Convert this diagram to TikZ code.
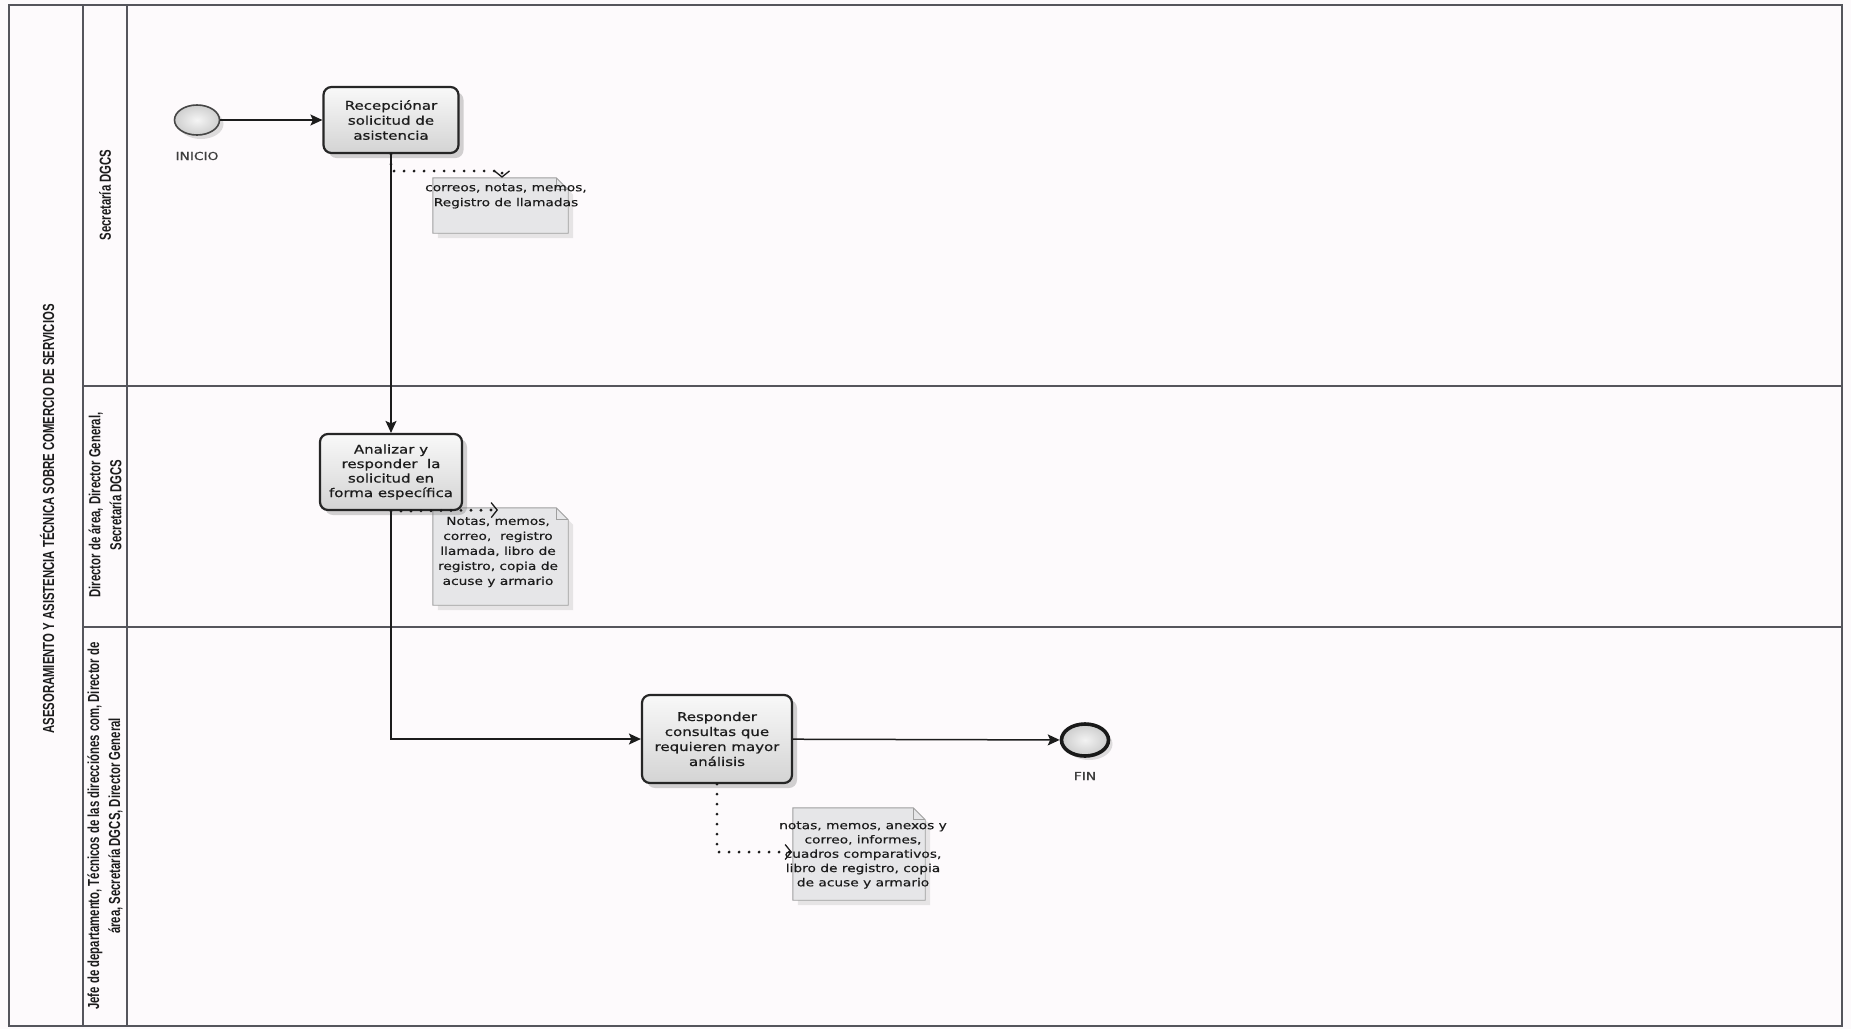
\documentclass[tikz,border=0pt]{standalone}
\usepackage{fontspec}
\setmainfont{DejaVu Sans}
\newfontfamily\bpmnfont[FakeStretch=1.25,FakeBold=0.7]{DejaVu Sans}
\newfontfamily\notefont[FakeStretch=1.25,FakeBold=0.45]{DejaVu Sans}
\newfontfamily\lanefont[FakeStretch=0.71]{Liberation Sans}
\usetikzlibrary{arrows.meta,shadows,calc,shapes.geometric}

\definecolor{pagebg}{RGB}{253,250,252}
\definecolor{rule}{RGB}{85,85,92}
\definecolor{ink}{RGB}{28,28,28}
\definecolor{notefill}{RGB}{230,230,232}

% folded-corner page drawn around an empty node
\newcommand\foldpage[1]{%
  \fill[gray!60,opacity=0.3] ($(#1.north west)+(5,5)$) -- ($(#1.north east)+(-7,5)$)
     -- ($(#1.north east)+(5,17)$) -- ($(#1.south east)+(5,5)$) -- ($(#1.south west)+(5,5)$) -- cycle;
  \filldraw[fill=notefill,draw=gray!75,line width=0.9pt] (#1.north west) -- ($(#1.north east)+(-12,0)$)
     -- ($(#1.north east)+(0,12)$) -- (#1.south east) -- (#1.south west) -- cycle;
  \draw[gray!75,line width=0.9pt] ($(#1.north east)+(-12,0)$) -- ($(#1.north east)+(-12,12)$) -- ($(#1.north east)+(0,12)$);
}

\tikzset{
  lane/.style={draw=rule,line width=1.3pt},
  lanelabel/.style={rotate=90,font=\lanefont\bfseries\fontsize{16}{21}\selectfont,text=ink,align=center,inner sep=0pt},
  task/.style={rectangle,rounded corners=8pt,draw=black!85,line width=2.2pt,
    top color=gray!5,bottom color=gray!34,align=center,inner sep=2pt,
    font=\bpmnfont\fontsize{12}{15}\selectfont,text=ink,
    drop shadow={shadow xshift=5pt,shadow yshift=-5pt,opacity=0.35,fill=gray}},
  startev/.style={ellipse,minimum width=45pt,minimum height=30pt,inner sep=0pt,
    draw=gray!55!black,line width=1.6pt,inner color=gray!8,outer color=gray!38,
    drop shadow={shadow xshift=4pt,shadow yshift=-4pt,opacity=0.25,fill=gray}},
  endev/.style={ellipse,minimum width=47pt,minimum height=32pt,inner sep=0pt,
    draw=black!90,line width=3.6pt,inner color=gray!10,outer color=gray!40,
    drop shadow={shadow xshift=4pt,shadow yshift=-4pt,opacity=0.25,fill=gray}},
  evlabel/.style={font=\notefont\fontsize{11}{13}\selectfont,text=ink!85,inner sep=0pt},
  notebox/.style={rectangle,draw=none,inner sep=0pt},
  notetext/.style={font=\notefont\fontsize{11}{15}\selectfont,text=ink,align=center,inner sep=0pt},
  flow/.style={draw=ink,line width=1.5pt,-{Stealth[length=12pt,width=11pt,inset=2.5pt]}},
  assoc/.style={draw=ink,line width=3.2pt,line cap=round,dash pattern=on 0pt off 10pt,
    -{Straight Barb[length=6pt,width=15pt,line width=1.3pt]}}
}

\begin{document}
\begin{tikzpicture}[x=1pt,y=-1pt]
\useasboundingbox (0,0) rectangle (1851,1029);
\fill[pagebg] (0,0) rectangle (1851,1029);

% pool and lanes
\draw[lane,line width=1.6pt] (9,5) rectangle (1842,1026);
\draw[rule,line width=2.6pt] (9,5) -- (1842,5);
\draw[lane] (83,5) -- (83,1026);
\draw[lane] (127,5) -- (127,1026);
\draw[lane] (83,386) -- (1842,386);
\draw[lane] (83,627) -- (1842,627);

\node[lanelabel] (pooltitle) at (47,519) {ASESORAMIENTO Y ASISTENCIA TÉCNICA SOBRE COMERCIO DE SERVICIOS};
\node[lanelabel] (lane1) at (105,195) {Secretaría DGCS};
\node[lanelabel] (lane2) at (105,505) {Director de área, Director General,\\Secretaría DGCS};
\node[lanelabel] (lane3) at (105,826) {Jefe de departamento, Técnicos de las direcciónes com, Director de\\área, Secretaría DGCS, Director General};

% data objects
\node[notebox,minimum width=135pt,minimum height=55pt] (n1) at (500.5,205.5) {};
\foldpage{n1}
\node[notetext] (n1t) at (506,196) {correos, notas, memos,\\Registro de llamadas};

\node[notebox,minimum width=135pt,minimum height=97pt] (n2) at (500.5,556.5) {};
\foldpage{n2}
\node[notetext] (n2t) at (498,552) {Notas, memos,\\correo,\ \ registro\\llamada, libro de\\registro, copia de\\acuse y armario};

\node[notebox,minimum width=132pt,minimum height=92pt] (n3) at (859,854) {};
\foldpage{n3}
\node[notetext,font=\notefont\fontsize{11}{14.3}\selectfont] (n3t) at (863,855) {notas, memos, anexos y\\correo, informes,\\cuadros comparativos,\\libro de registro, copia\\de acuse y armario};

% events and tasks
\node[startev] (start) at (197,120) {};
\node[evlabel] (startlbl) at (197,156) {INICIO};
\node[task,minimum width=135pt,minimum height=66pt] (t1) at (391,120) {Recepciónar\\solicitud de\\asistencia};
\node[task,minimum width=142pt,minimum height=76pt,font=\bpmnfont\fontsize{12}{14.5}\selectfont] (t2) at (391,472) {Analizar y\\responder\ \ la\\solicitud en\\forma específica};
\node[task,minimum width=150pt,minimum height=88pt] (t3) at (717,739) {Responder\\consultas que\\requieren mayor\\análisis};
\node[endev] (end) at (1085,740) {};
\node[evlabel] (endlbl) at (1085,776) {FIN};

% sequence flows
\draw[flow] (start) -- (t1);
\draw[flow] (t1) -- (t2);
\draw[flow] (t2) |- (t3);
\draw[flow] (t3) -- (end);

% data associations
\coordinate (a1) at (502,171);
\draw[assoc] (t1.south) |- (a1) -- (a1 |- n1.north);
\coordinate (a2) at (498,510);
\draw[assoc] (t2.south) -- (a2);
\coordinate (a3) at (792,852);
\draw[assoc] (t3.south) |- (a3);
\end{tikzpicture}
\end{document}
